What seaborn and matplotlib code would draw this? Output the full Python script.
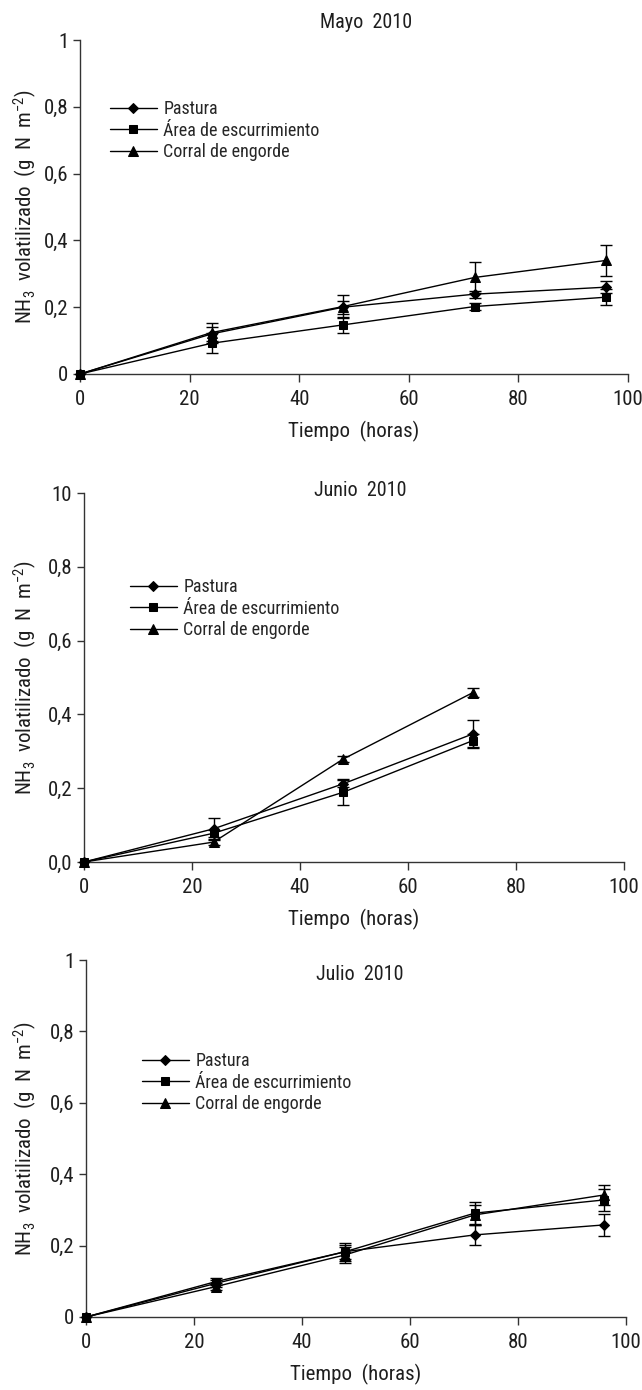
import numpy as np
import pandas as pd
import matplotlib
matplotlib.use("Agg")
import matplotlib.pyplot as plt
from matplotlib import font_manager as fm
import seaborn as sns

# ---------------- data ----------------
series = ["Pastura", "Área de escurrimiento", "Corral de engorde"]
markers = {"Pastura": "D", "Área de escurrimiento": "s", "Corral de engorde": "^"}

horas_mayo = [0, 24, 48, 72, 96]
mayo_pastura = [0.0, 0.120, 0.200, 0.239, 0.260]
mayo_area = [0.0, 0.092, 0.147, 0.202, 0.230]
mayo_corral = [0.0, 0.124, 0.202, 0.289, 0.340]
mayo_err_pastura = [0.0, 0.020, 0.020, 0.010, 0.017]
mayo_err_area = [0.0, 0.030, 0.025, 0.010, 0.023]
mayo_err_corral = [0.0, 0.030, 0.035, 0.047, 0.047]

horas_junio = [0, 24, 48, 72]
junio_pastura = [0.0, 0.090, 0.212, 0.347]
junio_area = [0.0, 0.078, 0.189, 0.329]
junio_corral = [0.0, 0.054, 0.279, 0.459]
junio_err_pastura = [0.0, 0.030, 0.010, 0.038]
junio_err_area = [0.0, 0.010, 0.035, 0.018]
junio_err_corral = [0.0, 0.008, 0.008, 0.012]

horas_julio = [0, 24, 48, 72, 96]
julio_pastura = [0.0, 0.094, 0.183, 0.230, 0.258]
julio_area = [0.0, 0.099, 0.183, 0.291, 0.328]
julio_corral = [0.0, 0.085, 0.174, 0.286, 0.342]
julio_err_pastura = [0.0, 0.010, 0.025, 0.028, 0.030]
julio_err_area = [0.0, 0.010, 0.020, 0.030, 0.030]
julio_err_corral = [0.0, 0.010, 0.023, 0.028, 0.028]

x_ticks = [0, 20, 40, 60, 80, 100]
y_ticks = [0, 0.2, 0.4, 0.6, 0.8, 1.0]
ylabels_mayo = ["0", "0,2", "0,4", "0,6", "0,8", "1"]
ylabels_junio = ["0,0", "0,2", "0,4", "0,6", "0,8", "10"]
ylabels_julio = ["0", "0,2", "0,4", "0,6", "0,8", "1"]

titles = ["Mayo  2010", "Junio  2010", "Julio  2010"]
xlabel = "Tiempo  (horas)"
ylabel = "NH$_3$  volatilizado  (g  N  m$^{-2}$)"


def make_df(horas, p, a, c, ep, ea, ec):
    rows = []
    for name, vals, errs in zip(series, [p, a, c], [ep, ea, ec]):
        for h, v, e in zip(horas, vals, errs):
            rows.append({"hora": h, "valor": v, "err": e, "serie": name})
    return pd.DataFrame(rows)


dfs = [
    make_df(horas_mayo, mayo_pastura, mayo_area, mayo_corral,
            mayo_err_pastura, mayo_err_area, mayo_err_corral),
    make_df(horas_junio, junio_pastura, junio_area, junio_corral,
            junio_err_pastura, junio_err_area, junio_err_corral),
    make_df(horas_julio, julio_pastura, julio_area, julio_corral,
            julio_err_pastura, julio_err_area, julio_err_corral),
]
ytick_labels = [ylabels_mayo, ylabels_junio, ylabels_julio]

# ---------------- font choice (narrow if available) ----------------
sns.set_theme(style="ticks")

def _is_narrow(f):
    n = f.name.lower()
    st = f.stretch
    if "narrow" in n or "condensed" in n:
        return True
    if isinstance(st, str) and "condensed" in st:
        return True
    if isinstance(st, (int, float)) and st < 100:
        return True
    return False

narrow = [f for f in fm.fontManager.ttflist
          if _is_narrow(f) and f.style == "normal"
          and f.weight in (400, "normal", "regular", "book")]
pref = ["Liberation Sans Narrow", "Arial Narrow", "Roboto Condensed",
        "Noto Sans", "Open Sans", "DejaVu Sans"]
chosen = None
for p in pref:
    for f in narrow:
        if f.name.startswith(p):
            chosen = f
            break
    if chosen is not None:
        break
if chosen is None and narrow:
    chosen = narrow[0]

if chosen is not None:
    main_family = chosen.name
    plt.rcParams["font.family"] = [main_family, "Liberation Sans", "DejaVu Sans"]
    if isinstance(chosen.stretch, str) and "condensed" in chosen.stretch:
        plt.rcParams["font.stretch"] = chosen.stretch
    elif isinstance(chosen.stretch, (int, float)) and chosen.stretch < 100:
        plt.rcParams["font.stretch"] = "condensed"
    fs_tick, fs_lab, fs_leg, fs_tit = 15, 15, 13, 14.5
else:
    main_family = "Liberation Sans"
    plt.rcParams["font.family"] = ["Liberation Sans", "DejaVu Sans"]
    fs_tick, fs_lab, fs_leg, fs_tit = 13.5, 13.5, 11.5, 13
plt.rcParams["mathtext.fontset"] = "custom"
plt.rcParams["mathtext.rm"] = main_family
plt.rcParams["mathtext.default"] = "regular"

W, H = 642, 1390
fig = plt.figure(figsize=(W / 100, H / 100), dpi=100)
fig.patch.set_facecolor("white")

# pixel boxes: x0, x1, ytop, ybot
boxes = [(80, 628, 40, 374), (84, 624, 493, 862), (86, 626, 960, 1317)]
legend_anchor_px = [(110, 100), (130, 578), (142, 1052)]
title_px = [(366, 22), (360, 490), (360, 975)]
marker_sizes = {"D": 5.3, "s": 6.3, "^": 7.3}

spine_col = "#333333"
txt_col = "#1e1e1e"
for i, (df, box) in enumerate(zip(dfs, boxes)):
    x0, x1, yt, yb = box
    ax = fig.add_axes([x0 / W, 1 - yb / H, (x1 - x0) / W, (yb - yt) / H])
    ax.set_facecolor("white")
    sns.lineplot(data=df, x="hora", y="valor", hue="serie", style="serie",
                 hue_order=series, style_order=series,
                 palette={s: "black" for s in series}, markers=markers,
                 dashes=False, markersize=6.5, markeredgecolor="black",
                 linewidth=1.0, errorbar=None, sort=False, ax=ax,
                 clip_on=False, zorder=3)
    for ln in ax.lines:
        m = ln.get_marker()
        if m in marker_sizes:
            ln.set_markersize(marker_sizes[m])
    for s in series:
        d = df[df["serie"] == s]
        ax.errorbar(d["hora"], d["valor"], yerr=d["err"], fmt="none",
                    ecolor="black", elinewidth=1.0, capsize=4.5, capthick=1.0,
                    zorder=2)
    ax.set_xlim(0, 100)
    ax.set_ylim(0, 1)
    ax.set_xticks(x_ticks)
    ax.set_xticklabels([str(t) for t in x_ticks])
    ax.set_yticks(y_ticks)
    ax.set_yticklabels(ytick_labels[i])
    ax.tick_params(axis="x", direction="out", length=6, width=1, color=spine_col,
                   labelsize=fs_tick, pad=5.5, labelcolor=txt_col)
    ax.tick_params(axis="y", direction="out", length=5, width=1, color=spine_col,
                   labelsize=fs_tick, pad=3.5, labelcolor=txt_col)
    sns.despine(ax=ax)
    for sp in ["left", "bottom"]:
        ax.spines[sp].set_color(spine_col)
        ax.spines[sp].set_linewidth(1.0)
    axw = x1 - x0
    axh = yb - yt
    ax.set_xlabel(xlabel, fontsize=fs_lab, color=txt_col)
    ax.xaxis.set_label_coords(0.5, -47 / axh)
    ax.set_ylabel(ylabel, fontsize=fs_lab, color=txt_col)
    ax.yaxis.set_label_coords((39 - x0) / axw, 0.5)

    handles, labels = ax.get_legend_handles_labels()
    lx, ly = legend_anchor_px[i]
    ax.legend(handles[-3:], labels[-3:], loc="upper left",
              bbox_to_anchor=((lx - x0) / axw, (yb - ly) / axh),
              frameon=False, fontsize=fs_leg, handlelength=2.6, handletextpad=0.35,
              labelspacing=0.2, borderpad=0, borderaxespad=0, markerscale=0.9)
    tx, ty = title_px[i]
    fig.text(tx / W, 1 - ty / H, titles[i], ha="center", va="center",
             fontsize=fs_tit, color=txt_col)

fig.savefig("out.png", dpi=100, facecolor="white")
